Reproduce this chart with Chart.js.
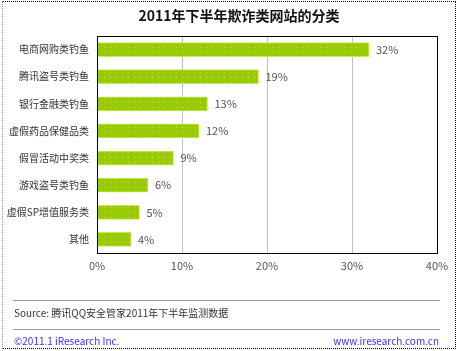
<!DOCTYPE html>
<html>
<head>
<meta charset="utf-8">
<script src="https://cdn.jsdelivr.net/npm/chart.js@4"></script>
<style>
    body { margin: 0; background: #fff; }
    #wrap { position: relative; width: 459px; height: 351px; overflow: hidden; font-family: "Noto Sans CJK SC", sans-serif; }
    #frame { position: absolute; left: 2px; top: 1px; width: 452px; height: 346px; border: 1px dotted #000; border-left-color: #999; }
    #title { position: absolute; left: 0; width: 478px; top: 5px; text-align: center; font-size: 14px; font-weight: bold; color: #111; }
    #chart { position: absolute; left: 0; top: 0; }
    .rule { position: absolute; left: 13px; width: 427px; border-top: 1px solid #999; }
    #source { position: absolute; left: 14px; top: 305px; font-size: 10px; color: #333; }
    #copy { position: absolute; left: 14px; top: 333px; font-size: 10px; color: #3333ff; }
    #site { position: absolute; right: 20px; top: 333px; font-size: 10px; color: #3333ff; }
</style>
</head>
<body>
<div id="wrap">
    <div id="frame"></div>
    <canvas id="chart" width="459" height="351"></canvas>
    <div id="title">2011年下半年欺诈类网站的分类</div>
    <div class="rule" style="top:300px"></div>
    <div id="source">Source: 腾讯QQ安全管家2011年下半年监测数据</div>
    <div class="rule" style="top:329px"></div>
    <div id="copy">©2011.1 iResearch Inc.</div>
    <div id="site">www.iresearch.com.cn</div>
</div>
<script>
// Categories and shares (%)
const categories = ['电商网购类钓鱼', '腾讯盗号类钓鱼', '银行金融类钓鱼', '虚假药品保健品类', '假冒活动中奖类', '游戏盗号类钓鱼', '虚假SP增值服务类', '其他'];
const shares = [32, 19, 13, 12, 9, 6, 5, 4];
const xTicks = [0, 10, 20, 30, 40];

// dotted green fill like the original bars
function makePattern() {
    const c = document.createElement('canvas');
    c.width = 6; c.height = 5;
    const g = c.getContext('2d');
    g.fillStyle = '#99cc00';
    g.fillRect(0, 0, 6, 5);
    g.fillStyle = '#c4e060';
    g.fillRect(2, 2, 1, 1);
    return g.createPattern(c, 'repeat');
}

// value labels and the black box round the plot
const extras = {
    id: 'extras',
    afterDatasetsDraw(chart) {
        const ctx = chart.ctx;
        const a = chart.chartArea;
        ctx.save();
        ctx.strokeStyle = '#000';
        ctx.lineWidth = 1;
        ctx.strokeRect(Math.round(a.left) + 0.5, Math.round(a.top) + 0.5, Math.round(a.right - a.left), Math.round(a.bottom - a.top));
        ctx.font = '11px "Noto Sans CJK SC", sans-serif';
        ctx.fillStyle = '#555';
        ctx.textBaseline = 'middle';
        chart.getDatasetMeta(0).data.forEach((bar, i) => {
            ctx.fillText(shares[i] + '%', bar.x + 7, bar.y);
        });
        ctx.restore();
    }
};

new Chart(document.getElementById('chart'), {
    type: 'bar',
    data: {
        labels: categories,
        datasets: [{
            data: shares,
            backgroundColor: makePattern(),
            borderColor: '#c8ec50',
            borderWidth: 1,
            barThickness: 14
        }]
    },
    options: {
        indexAxis: 'y',
        responsive: false,
        animation: false,
        layout: { padding: { top: 36, right: 22, left: 0, bottom: 0 } },
        plugins: { legend: { display: false }, tooltip: { enabled: false } },
        scales: {
            x: {
                min: 0, max: 40,
                afterFit(s) { s.height = 98; },
                afterBuildTicks(s) { s.ticks = xTicks.map(v => ({ value: v })); },
                grid: { color: '#c0c0c0', drawTicks: false },
                border: { display: false },
                ticks: { padding: 6, color: '#555', font: { size: 11, family: '"Noto Sans CJK SC", sans-serif' }, callback: v => v + '%' }
            },
            y: {
                afterFit(s) { s.width = 97; },
                grid: { display: false, drawTicks: false },
                border: { display: false },
                ticks: { padding: 8, color: '#333', font: { size: 10, family: '"Noto Sans CJK SC", sans-serif' } }
            }
        }
    },
    plugins: [extras]
});
</script>
</body>
</html>
